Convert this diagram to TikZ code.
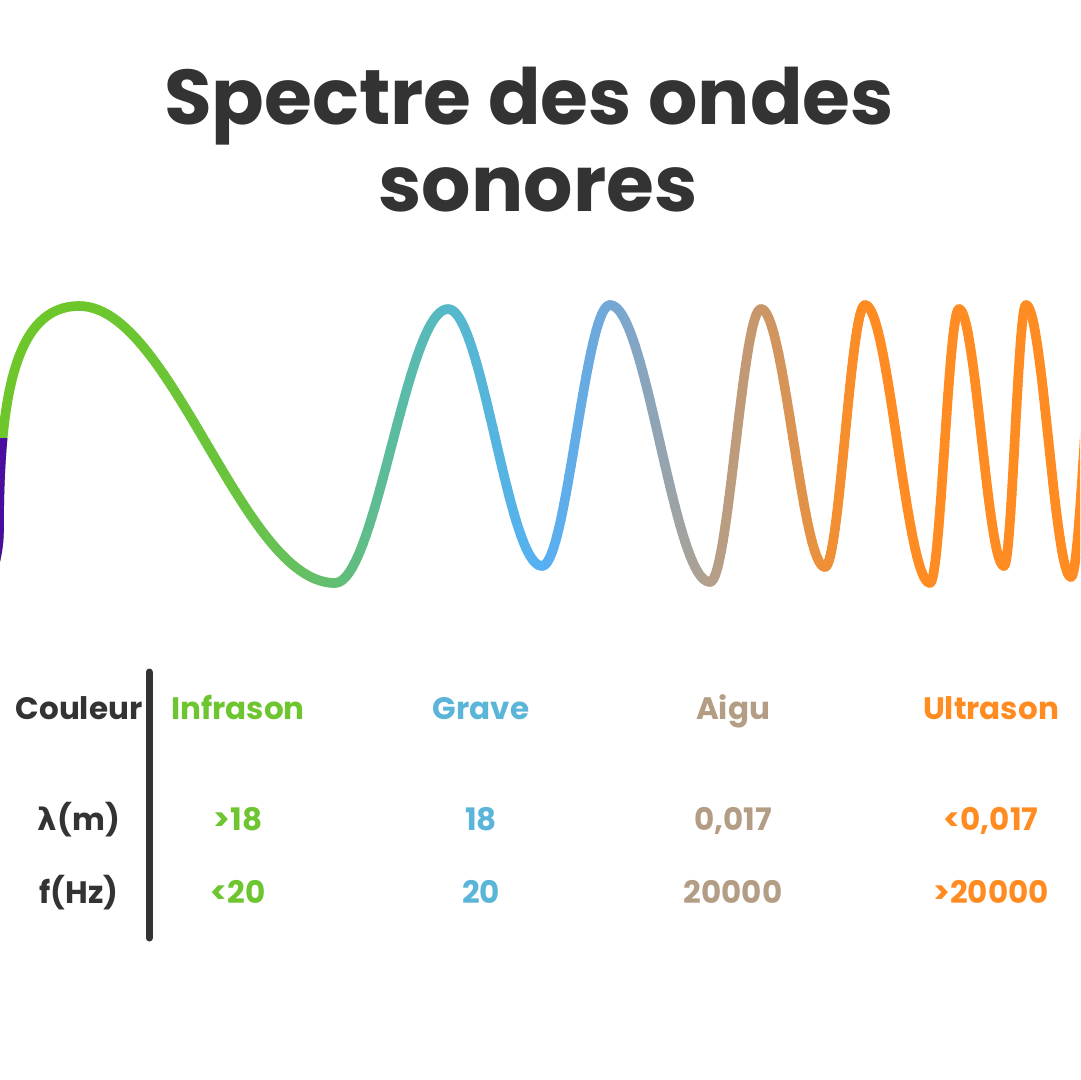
\documentclass[tikz,border=0pt]{standalone}
\usepackage{fontspec}
\setmainfont{Poppins}
\newfontfamily\greekfont{DejaVu Sans}
\definecolor{ink}{HTML}{333333}
\definecolor{cInfra}{HTML}{6DC52F}
\definecolor{cGrave}{HTML}{5BB5D9}
\definecolor{cAigu}{HTML}{B39D84}
\definecolor{cUltra}{HTML}{FF8B21}
\definecolor{wpurple}{HTML}{4A0DA0}
\definecolor{wa}{HTML}{6DC72B}
\definecolor{wb}{HTML}{6AC43C}
\definecolor{wc}{HTML}{62BE72}
\definecolor{wd}{HTML}{55B9C8}
\definecolor{we}{HTML}{55B0F5}
\definecolor{wf}{HTML}{72A8D8}
\definecolor{wg}{HTML}{B2A08C}
\definecolor{wh}{HTML}{C9966A}
\definecolor{wi}{HTML}{EE9038}
\definecolor{wj}{HTML}{FF8C22}
\tikzset{
  wave/.style={line width=4.8pt, line cap=round},
  titletext/.style={anchor=base, text=ink, font=\fontsize{38.8}{38.8}\selectfont\bfseries, inner sep=0pt},
  cell/.style={anchor=base, font=\fontsize{15.5}{15.5}\selectfont\bfseries, inner sep=0pt},
  bar/.style={line width=3.5pt, line cap=round, draw=ink}
}
\begin{document}
\begin{tikzpicture}[x=0.5pt, y=-0.5pt]
\useasboundingbox (0,0) rectangle (1080,1080);
\fill[white] (0,0) rectangle (1080,1080);
\begin{scope}
\clip (0,0) rectangle (1080,1080);
% first rise
\draw[wave, draw=wa] (-16,600) .. controls (-6,570) and (-1,550) .. (-1,530)
   .. controls (-1,395) and (16,306) .. (79,306);
\begin{scope}
\clip (-30,438) rectangle (40,700);
\draw[wave, line cap=butt, draw=wpurple] (-16,600) .. controls (-6,570) and (-1,550) .. (-1,530)
   .. controls (-1,395) and (16,306) .. (79,306);
\end{scope}
% gradient wave made of half cosine arcs
\foreach \xa/\ya/\xb/\yb/\ta/\tb/\ca/\cb in {
  79/306/335/583/0/0.6/wa/wb,
  79/306/335/583/0.6/1/wb/wc,
  335/583/448/309/0/1/wc/wd,
  448/309/542/566/0/1/wd/we,
  542/566/610/305/0/1/we/wf,
  610/305/710/582/0/1/wf/wg,
  710/582/761/309/0/1/wg/wh,
  761/309/825/567/0/1/wh/wi,
  825/567/865/305/0/1/wi/wj,
  865/305/930/583/0/1/wj/wj,
  930/583/959/309/0/1/wj/wj,
  959/309/1004/566/0/1/wj/wj,
  1004/566/1026/305/0/1/wj/wj,
  1026/305/1071/577/0/1/wj/wj,
  1071/577/1098/305/0/1/wj/wj}{
  \foreach \k in {1,...,40}{
    \pgfmathsetmacro\tp{\ta+(\tb-\ta)*(\k-1)/40}
    \pgfmathsetmacro\tc{\ta+(\tb-\ta)*\k/40}
    \pgfmathsetmacro\xp{\xa+(\xb-\xa)*\tp}
    \pgfmathsetmacro\yp{(\ya+\yb)/2+(\ya-\yb)/2*cos(180*\tp)}
    \pgfmathsetmacro\xc{\xa+(\xb-\xa)*\tc}
    \pgfmathsetmacro\yc{(\ya+\yb)/2+(\ya-\yb)/2*cos(180*\tc)}
    \pgfmathtruncatemacro\pc{100*(\k-0.5)/40}
    \draw[wave, draw=\cb!\pc!\ca] (\xp,\yp) -- (\xc,\yc);
  }
}
\end{scope}
% title
\node[titletext] (title1) at (529,125) {Spectre des ondes};
\node[titletext] (title2) at (538,212) {sonores};
% separator bar
\coordinate (bartop) at (149,672);
\coordinate (barbot) at (149,938);
\draw[bar] (bartop) -- (barbot);
% header column
\node[cell, text=ink] (hcoul) at (79,719) {Couleur};
\node[cell, text=ink] (hlam) at (79,830) {{\greekfont\bfseries λ}(m)};
\node[cell, text=ink] (hfreq) at (79,903) {f(Hz)};
% Infrason
\node[cell, text=cInfra] (n1) at (238,719) {Infrason};
\node[cell, text=cInfra] (l1) at (238,830) {>18};
\node[cell, text=cInfra] (f1) at (238,903) {<20};
% Grave
\node[cell, text=cGrave] (n2) at (481,719) {Grave};
\node[cell, text=cGrave] (l2) at (481,830) {18};
\node[cell, text=cGrave] (f2) at (481,903) {20};
% Aigu
\node[cell, text=cAigu] (n3) at (733,719) {Aigu};
\node[cell, text=cAigu] (l3) at (733,830) {0,017};
\node[cell, text=cAigu] (f3) at (733,903) {20000};
% Ultrason
\node[cell, text=cUltra] (n4) at (991,719) {Ultrason};
\node[cell, text=cUltra] (l4) at (991,830) {<0,017};
\node[cell, text=cUltra] (f4) at (991,903) {>20000};
\end{tikzpicture}
\end{document}
